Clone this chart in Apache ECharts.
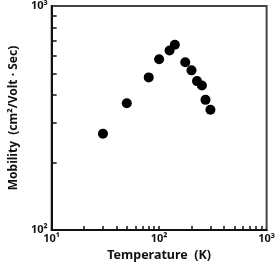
<!DOCTYPE html>
<html><head><meta charset="utf-8">
<script src="https://cdn.jsdelivr.net/npm/echarts@6/dist/echarts.min.js"></script>
<style>html,body{margin:0;padding:0;background:#fff}#c{width:278px;height:267px}</style>
</head><body><div id="c"></div>
<script>
const temperature = [30, 50, 80, 100, 125, 140, 175, 200, 225, 250, 270, 300];
const mobility = [269, 368, 480, 578, 633, 672, 561, 516, 462, 442, 381, 344];
const xTickValues = [20, 30, 40, 50, 60, 70, 80, 90, 100, 200, 300, 400, 500, 600, 700, 800, 900];
const yTickValues = [200, 300, 400, 500, 600, 700, 800, 900];
const powerLabels = {10: '10\u00b9', 100: '10\u00b2', 1000: '10\u00b3'};
const xName = 'Temperature  (K)';
const yName = 'Mobility  (cm\u00b2/Volt \u00b7 Sec)';

const font = 'Noto Sans';
const chart = echarts.init(document.getElementById('c'), null, {renderer: 'canvas'});
chart.setOption({
  animation: false,
  backgroundColor: '#fff',
  grid: {left: 44, top: 6, right: 4, bottom: 32, show: true, borderColor: '#444', borderWidth: 2},
  xAxis: {
    type: 'log', logBase: 10, min: 10, max: 1000,
    name: xName, nameLocation: 'middle', nameGap: 19,
    nameTextStyle: {fontFamily: font, fontWeight: 'bold', fontSize: 12.5, color: '#111'},
    axisLine: {lineStyle: {color: '#111', width: 2}},
    axisTick: {inside: true, length: 4, customValues: xTickValues, lineStyle: {color: '#111', width: 1.5}},
    axisLabel: {fontFamily: font, fontWeight: 'bold', fontSize: 11, color: '#111', margin: 3,
      formatter: v => powerLabels[Math.round(v)] || ''},
    splitLine: {show: false}
  },
  yAxis: {
    type: 'log', logBase: 10, min: 100, max: 1000,
    name: yName, nameLocation: 'middle', nameGap: 30,
    nameTextStyle: {fontFamily: font, fontWeight: 'bold', fontSize: 12, color: '#111'},
    axisLine: {lineStyle: {color: '#111', width: 2}},
    axisTick: {inside: true, length: 5, customValues: yTickValues, lineStyle: {color: '#111', width: 1.5}},
    axisLabel: {fontFamily: font, fontWeight: 'bold', fontSize: 11, color: '#111', margin: 4,
      formatter: v => powerLabels[Math.round(v)] || ''},
    splitLine: {show: false}
  },
  series: [{
    type: 'scatter',
    data: temperature.map((t, i) => [t, mobility[i]]),
    symbol: 'circle', symbolSize: 10,
    itemStyle: {color: '#000', opacity: 1}
  }]
});
</script></body></html>
